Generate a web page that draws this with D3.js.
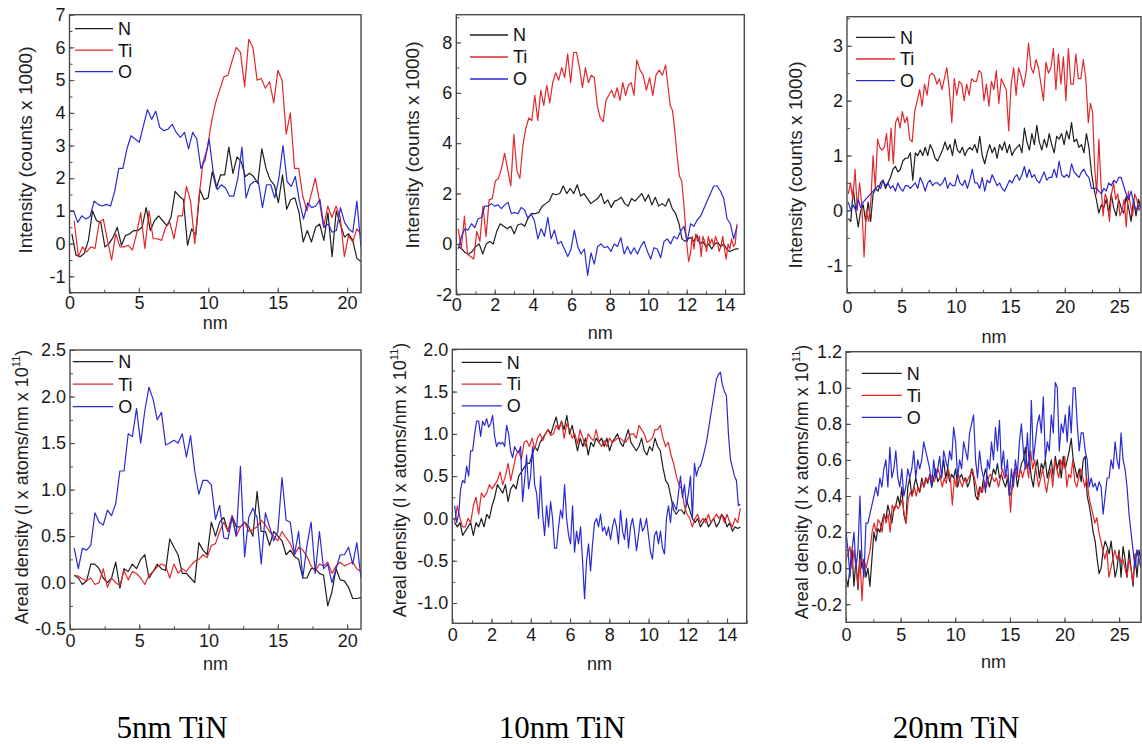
<!DOCTYPE html>
<html>
<head>
<meta charset="utf-8">
<script src="https://cdn.jsdelivr.net/npm/d3@7"></script>
<style>
body{margin:0;background:#fff;}
svg{display:block;}
text{font-family:"Liberation Sans",Arial,sans-serif;}
text.caption{font-family:"Liberation Serif","Times New Roman",serif;}
</style>
</head>
<body>
<svg id="chart" width="1142" height="744"></svg>
<script>
// ---------------- data ----------------
var seriesNames=["N","Ti","O"];
var seriesColors=["#1e1e1e","#e2272b","#2a2ad2"];
var sampleTitles=["5nm TiN","10nm TiN","20nm TiN"];

// panel 1 : 5nm, intensity
var p1N=[0.3,-0.35,-0.4,-0.3,0.1,1.0,0.7,0.65,-0.1,0.0,0.2,0.5,-0.05,0.25,0.3,0.4,0.4,0.5,1.1,0.4,0.7,0.85,0.7,0.55,0.8,1.6,1.45,1.35,-0.05,0.45,0.25,1.65,1.35,1.4,2.2,1.7,2.1,2.1,2.95,2.15,2.65,2.5,2.05,2.15,2.05,1.85,2.9,2.3,1.95,1.8,1.25,2.1,1.05,1.35,1.4,0.95,0.05,0.4,0.05,0.5,0.6,0.1,0.95,-0.4,1.0,0.6,0.2,0.3,0.1,-0.45,-0.55];
var p1Ti=[0.7,-0.4,-0.1,-0.25,-0.1,-0.15,0.65,0.75,0.1,-0.5,0.3,-0.1,-0.1,-0.05,-0.2,0.3,0.95,-0.15,1.0,0.15,0.15,0.1,0.5,0.65,0.15,0.85,0.85,1.75,1.3,0.0,1.4,2.5,2.9,3.7,4.3,4.7,5.1,5.15,5.6,6.0,5.85,4.8,6.25,6.0,5.0,5.05,4.75,4.95,4.3,5.3,5.0,3.35,4.0,2.3,2.3,1.45,1.0,1.5,2.0,1.3,0.5,1.15,0.8,1.15,0.8,-0.4,0.25,0.05,0.45,0.3];
var p1O=[1.0,1.0,0.65,0.85,0.75,0.83,1.3,1.2,1.15,1.2,1.15,1.6,2.3,2.3,2.9,3.3,3.2,3.1,3.6,4.1,3.8,4.05,3.55,3.45,3.5,3.65,3.4,3.25,3.4,2.9,3.4,3.2,2.3,2.55,3.2,2.2,1.65,1.8,1.7,1.45,1.45,2.0,2.95,1.4,1.8,1.9,1.9,1.1,1.8,1.8,1.4,2.0,3.0,1.9,1.75,2.05,1.3,0.75,1.25,1.1,1.15,1.35,0.5,0.6,0.35,0.4,1.1,0.65,0.45,0.35,1.3,-0.1];
// sample positions (index -> nm), -1 = last sample
var p1Pos=[[[0,0.17],[-1,21]],[[0,0.34],[-1,21]],[[0,0],[-1,21]]];

// panel 2 : 10nm, intensity
var p2N=[-0.1,-0.2,-0.35,-0.4,-0.3,-0.1,0.0,-0.4,0.0,0.1,0.0,0.5,0.8,0.7,0.6,0.7,0.4,0.75,0.8,0.7,1.05,1.2,1.2,1.25,1.5,1.6,1.7,2.0,1.95,2.0,2.3,2.0,2.2,2.0,2.35,1.9,2.0,1.8,1.6,1.7,1.8,2.0,1.6,1.75,1.45,1.7,1.75,1.85,1.6,1.5,1.8,1.7,1.85,2.0,1.7,1.95,1.55,1.85,1.5,1.6,1.5,1.8,1.4,1.2,0.8,0.2,0.1,0.2,0.25,0.1,0.35,0.0,0.1,-0.1,0.0,-0.2,0.0,0.05,-0.1,0.0,-0.2,-0.3,-0.25,-0.2,-0.2];
var p2Ti=[0.6,-0.2,1.1,-0.4,-0.5,-0.6,0.5,0.1,1.5,0.3,1.75,1.8,2.5,2.6,3.0,3.6,2.95,2.3,4.35,2.9,2.6,3.9,4.6,5.0,4.9,5.9,4.9,6.1,5.5,6.3,5.6,6.4,6.8,6.5,7.0,6.6,7.55,6.4,7.6,7.6,7.0,6.2,7.0,6.4,6.7,6.6,5.5,5.0,4.85,5.7,5.9,6.1,5.8,6.2,5.7,6.4,5.9,6.3,6.4,5.9,7.3,6.9,6.7,6.1,6.6,5.9,6.7,6.9,6.7,7.1,6.3,5.5,5.3,4.5,3.5,2.7,2.5,1.5,0.2,-0.7,-0.4,0.3,-0.2,0.4,0.1,0.3,-0.5,0.3,0.1,-0.3,0.3,0.0,0.2,-0.1,0.3,0.1,-0.3,-0.1,0.3,-0.2,-0.6,0.0,-0.2,0.2,-0.1,0.0,0.8];
var p2O=[-0.2,0.3,0.6,0.55,0.8,0.65,1.0,1.05,1.5,1.5,1.6,1.5,1.55,1.4,1.55,1.65,1.2,1.25,1.2,1.45,1.35,1.0,1.2,0.9,0.2,0.6,0.3,1.05,0.2,0.55,0.0,0.1,-0.2,-0.5,-0.2,0.55,-0.1,-0.4,-0.2,-1.25,-0.35,-0.8,-0.1,0.0,-0.15,-0.1,-0.3,0.0,-0.1,0.25,-0.4,-0.1,-0.4,-0.15,-0.4,-0.1,0.1,-0.3,-0.6,-0.15,-0.2,-0.55,0.1,0.2,0.0,0.3,0.2,0.5,0.7,0.1,0.8,0.7,0.95,1.1,1.4,1.7,2.0,2.3,2.3,2.1,1.8,1.0,0.8,0.2,0.7];
var p2Pos=[[[0,0.1],[34,6.3],[64,11.6],[-1,14.7]],
           [[0,0.1],[18,3.0],[36,5.8],[48,7.65],[60,9.4],[69,10.9],[79,12.1],[-1,14.62]],
           [[0,0.1],[-1,14.62]]];

// panel 3 : 20nm, intensity
var p3N=[-0.15,-0.2,0.4,0.0,-0.3,0.0,0.1,-0.2,0.15,-0.2,0.3,0.4,0.35,0.5,0.55,0.4,0.5,0.6,0.75,0.8,0.7,0.75,0.9,0.95,0.95,1.05,0.55,1.05,1.0,1.1,1.0,1.15,1.0,1.2,1.1,0.95,0.9,1.0,1.1,1.25,1.1,1.2,1.0,1.3,1.1,1.05,1.15,1.0,1.1,1.15,1.1,1.2,1.05,1.35,1.0,0.85,1.05,1.2,1.05,1.15,0.95,1.2,1.1,1.25,1.05,1.2,1.0,1.1,1.15,1.2,1.05,1.5,1.25,1.1,1.4,1.2,1.55,1.25,1.1,1.3,1.15,1.4,1.2,1.05,1.35,1.3,1.4,1.2,1.45,1.3,1.6,1.25,1.3,1.15,1.2,1.05,1.4,1.15,0.7,0.4,0.2,-0.05,0.1,0.05,0.2,-0.05,0.3,0.05,-0.1,0.2,0.05,-0.05,0.25,0.05,-0.2,0.2,-0.1,0.2,0.05];
var p3Ti=[0.3,0.5,0.2,0.75,0.0,0.5,0.1,-0.85,0.0,-0.2,0.15,1.0,0.4,1.3,1.15,1.1,1.15,1.4,0.9,1.5,0.85,1.6,1.7,1.5,1.8,1.6,1.7,1.3,1.25,1.8,2.0,2.2,1.9,2.3,2.1,2.45,2.5,2.45,2.3,2.4,2.2,2.4,2.6,2.2,1.6,2.4,2.1,2.35,2.3,2.0,2.3,2.1,2.4,2.35,2.35,2.55,2.5,2.0,2.3,1.9,2.35,2.2,2.55,1.95,2.4,2.3,2.2,1.45,2.3,2.6,2.1,2.6,2.45,2.25,2.5,3.05,2.6,2.5,2.75,2.6,2.3,2.0,2.7,2.5,2.6,2.95,2.2,2.85,2.3,2.8,2.0,2.95,2.3,2.3,2.85,2.4,2.4,2.75,2.4,1.6,1.95,1.8,0.8,0.3,1.3,0.5,-0.1,0.3,0.2,-0.2,0.3,0.5,0.2,0.3,-0.1,0.0,0.2,-0.3,0.35,0.1,-0.1,0.3,0.2,0.0,0.1];
var p3O=[0.15,0.0,0.1,0.0,0.2,0.05,0.15,0.2,0.25,0.3,0.35,0.4,0.45,0.4,0.55,0.45,0.5,0.4,0.45,0.35,0.5,0.4,0.35,0.45,0.45,0.4,0.45,0.5,0.4,0.6,0.5,0.35,0.5,0.55,0.45,0.5,0.5,0.45,0.5,0.6,0.4,0.5,0.45,0.45,0.65,0.5,0.45,0.55,0.4,0.55,0.75,0.5,0.5,0.4,0.6,0.35,0.55,0.5,0.65,0.55,0.45,0.5,0.4,0.35,0.45,0.55,0.5,0.6,0.65,0.55,0.65,0.8,0.6,0.75,0.6,0.65,0.55,0.5,0.6,0.7,0.55,0.6,0.6,0.75,0.6,0.9,0.65,0.6,0.65,0.6,0.85,0.7,0.65,0.6,0.7,0.75,0.65,0.6,0.4,0.4,0.4,0.35,0.3,0.4,0.35,0.5,0.45,0.55,0.5,0.6,0.6,0.45,0.3,0.2,0.35,0.15,0.0,0.1,0.05];
var p3Pos=[[[0,0.12],[-1,27]],
           [[0,0.12],[24,5.08],[49,10.76],[74,16.44],[99,22.16],[-1,27]],
           [[0,0.12],[-1,27]]];

// panel 4 : 5nm, areal density
var p4N=[0.08,0.05,-0.02,0.02,0.2,0.2,0.15,0.05,0.0,0.05,0.22,-0.06,0.15,0.12,0.2,0.15,0.25,0.3,0.05,0.12,0.2,0.15,0.13,0.47,0.38,0.3,0.1,0.1,0.05,0.0,0.43,0.35,0.3,0.65,0.5,0.65,0.7,0.55,0.72,0.6,0.6,0.65,0.6,0.5,0.98,0.55,0.55,0.4,0.55,0.5,0.45,0.3,0.35,0.28,0.25,0.05,0.05,0.15,0.15,0.1,0.08,-0.25,-0.1,0.15,0.03,0.02,-0.05,-0.17,-0.17,-0.16];
var p4Ti=[0.08,0.07,0.04,0.02,0.05,-0.02,0.0,0.15,-0.05,0.05,0.0,-0.03,0.13,0.03,0.12,0.1,0.05,-0.02,0.08,0.12,0.17,0.2,0.18,0.05,0.2,0.1,0.15,0.12,0.18,0.23,0.25,0.3,0.27,0.4,0.42,0.55,0.65,0.55,0.72,0.5,0.6,0.65,0.55,0.57,0.6,0.67,0.62,0.55,0.5,0.45,0.55,0.48,0.42,0.3,0.38,0.35,0.28,0.18,0.12,0.2,0.18,0.22,0.1,0.18,0.22,0.18,0.2,0.22,0.15,0.12];
var p4O=[0.37,0.15,0.37,0.35,0.4,0.75,0.65,0.62,0.78,0.72,0.85,1.2,1.2,1.6,1.57,1.87,1.5,1.85,2.1,1.97,1.75,1.83,1.48,1.5,1.53,1.5,1.6,1.35,1.58,1.2,0.95,1.1,1.1,1.05,0.68,0.83,0.48,0.47,0.7,0.5,1.25,0.28,0.7,0.8,0.7,0.2,0.75,0.6,0.45,0.55,1.13,0.67,0.65,0.3,0.55,0.05,0.4,0.65,0.1,0.55,0.15,0.2,0.0,0.15,0.3,0.3,0.38,0.2,0.43,0.05];
var p4Pos=[[[0,0.3],[-1,21]],[[0,0.3],[-1,21]],[[0,0.3],[-1,21]]];

// panel 5 : 10nm, areal density
var p5N=[-0.05,-0.1,-0.05,-0.2,-0.15,-0.1,-0.05,-0.2,-0.05,-0.1,0.0,-0.1,0.05,0.0,0.15,0.25,0.4,0.35,0.3,0.4,0.2,0.35,0.4,0.35,0.5,0.55,0.6,0.65,0.65,0.75,0.85,0.8,0.9,0.95,1.0,1.05,1.0,1.1,1.2,1.05,1.15,1.05,1.22,1.0,1.1,0.95,0.8,0.95,0.85,0.95,0.75,0.9,0.85,0.95,0.9,0.95,0.85,0.95,0.8,0.9,0.95,1.0,0.9,0.85,0.95,1.05,0.9,0.85,0.8,0.85,0.95,0.8,0.75,0.85,0.8,0.95,0.85,0.8,0.6,0.45,0.4,0.25,0.1,0.05,0.1,0.1,0.05,0.2,0.1,0.0,-0.05,0.0,-0.1,-0.05,0.0,-0.1,-0.05,0.0,-0.1,-0.05,0.05,0.0,-0.1,-0.05,-0.15,-0.1,-0.12,-0.1];
var p5Ti=[-0.05,0.15,0.0,-0.1,-0.1,0.0,-0.05,0.15,0.25,0.05,0.3,0.25,0.3,0.4,0.35,0.4,0.45,0.55,0.4,0.5,0.65,0.45,0.6,0.75,0.8,0.7,0.9,0.92,0.85,0.95,0.82,0.95,1.0,0.92,1.0,1.05,0.98,1.0,1.1,1.05,1.15,0.95,1.12,1.05,0.95,1.0,0.88,1.05,0.95,0.85,1.0,0.95,0.92,1.05,0.9,0.85,0.92,0.85,0.95,0.9,0.92,0.95,0.95,0.92,0.9,0.95,1.0,1.0,0.95,1.1,1.05,1.0,0.9,0.92,0.95,1.05,1.05,1.1,0.95,0.85,0.9,0.75,0.65,0.5,0.4,0.35,0.15,0.05,0.0,-0.1,0.0,0.05,-0.05,0.0,-0.05,0.05,-0.05,0.0,0.05,0.0,0.05,-0.05,0.05,-0.05,-0.1,0.0,-0.05,0.12];
var p5O=[0.15,-0.05,0.05,0.35,0.45,0.42,0.62,0.5,0.8,0.8,1.0,1.15,1.15,0.97,1.15,1.1,1.18,1.08,1.12,1.22,0.97,0.85,0.9,0.88,0.9,0.85,1.1,1.0,0.8,0.72,0.85,0.8,0.78,0.85,0.2,0.45,0.75,0.35,0.5,0.85,0.4,0.3,0.0,0.5,0.05,-0.2,0.15,-0.1,0.2,0.0,-0.35,-0.35,-0.1,0.1,0.0,0.4,0.0,-0.2,-0.3,0.15,-0.4,-0.15,-0.3,-0.1,-0.5,-0.95,-0.5,-0.3,-0.62,-0.3,-0.05,0.0,-0.1,0.05,-0.15,-0.1,-0.2,-0.1,-0.25,-0.1,0.0,-0.1,-0.3,0.1,-0.15,-0.25,0.0,-0.35,-0.1,0.0,-0.15,-0.38,-0.2,0.0,-0.15,-0.1,0.0,-0.2,-0.4,-0.48,-0.2,-0.15,-0.3,-0.15,-0.35,-0.42,0.0,0.15,-0.05,0.2,0.15,0.1,0.3,0.5,0.25,0.4,0.15,0.3,0.5,0.0,0.65,0.5,0.6,0.62,0.7,0.8,0.9,1.05,1.2,1.35,1.5,1.65,1.7,1.73,1.58,1.5,1.45,1.0,0.7,0.6,0.5,0.45,0.15,0.17];
var p5Pos=[[[0,0.12],[-1,14.68]],[[0,0.12],[-1,14.68]],[[0,0.12],[-1,14.68]]];

// panel 6 : 20nm, areal density
var p6N=[-0.05,-0.1,0.0,0.1,-0.1,0.05,-0.12,0.1,0.0,0.05,-0.05,0.0,-0.1,0.05,0.2,0.15,0.22,0.2,0.25,0.3,0.27,0.35,0.3,0.25,0.33,0.35,0.4,0.35,0.45,0.3,0.25,0.45,0.5,0.4,0.45,0.5,0.45,0.42,0.5,0.45,0.5,0.47,0.52,0.45,0.5,0.55,0.48,0.5,0.52,0.6,0.5,0.55,0.48,0.52,0.5,0.55,0.45,0.5,0.52,0.48,0.5,0.45,0.48,0.55,0.5,0.4,0.38,0.45,0.42,0.5,0.55,0.5,0.45,0.5,0.55,0.52,0.58,0.5,0.52,0.48,0.45,0.5,0.4,0.42,0.5,0.55,0.45,0.52,0.58,0.6,0.67,0.55,0.6,0.5,0.45,0.55,0.6,0.5,0.58,0.55,0.6,0.5,0.55,0.6,0.5,0.62,0.55,0.6,0.5,0.62,0.55,0.6,0.65,0.72,0.6,0.55,0.5,0.55,0.48,0.6,0.62,0.4,0.35,0.28,0.2,0.15,0.05,-0.03,0.0,0.1,0.15,0.12,0.08,0.15,0.05,-0.05,0.0,0.1,-0.05,0.12,0.05,-0.05,0.1,0.0,-0.1,0.08,-0.05,0.1,0.05];
var p6Ti=[0.05,0.08,0.12,0.0,0.1,0.0,-0.1,0.05,-0.18,0.05,0.0,0.05,0.1,0.2,0.25,0.2,0.27,0.25,0.2,0.3,0.25,0.3,0.2,0.35,0.32,0.35,0.33,0.35,0.38,0.3,0.25,0.38,0.42,0.4,0.45,0.4,0.45,0.43,0.48,0.45,0.5,0.48,0.52,0.5,0.48,0.52,0.55,0.5,0.45,0.5,0.47,0.55,0.5,0.35,0.5,0.45,0.52,0.48,0.45,0.5,0.47,0.5,0.52,0.55,0.5,0.45,0.38,0.45,0.42,0.48,0.45,0.5,0.52,0.5,0.48,0.5,0.45,0.5,0.55,0.5,0.52,0.48,0.31,0.5,0.55,0.52,0.5,0.55,0.5,0.55,0.58,0.5,0.65,0.55,0.6,0.52,0.45,0.5,0.55,0.48,0.42,0.5,0.55,0.45,0.6,0.55,0.5,0.6,0.55,0.62,0.45,0.52,0.5,0.6,0.48,0.45,0.5,0.55,0.5,0.45,0.5,0.4,0.35,0.3,0.25,0.28,0.2,0.15,0.1,0.05,0.1,-0.05,0.0,0.05,0.1,0.05,0.08,0.03,0.05,0.0,-0.05,0.05,0.0,-0.08,0.05,0.1,0.05,0.0];
var p6O=[0.2,0.1,-0.05,0.1,0.2,0.0,0.1,0.4,0.05,-0.05,0.25,0.25,0.3,0.35,0.4,0.45,0.4,0.5,0.45,0.55,0.6,0.45,0.67,0.5,0.55,0.65,0.5,0.45,0.55,0.4,0.45,0.55,0.5,0.55,0.65,0.5,0.6,0.55,0.6,0.7,0.65,0.6,0.55,0.45,0.6,0.5,0.55,0.62,0.5,0.65,0.6,0.55,0.65,0.6,0.78,0.7,0.5,0.6,0.55,0.7,0.65,0.6,0.75,0.8,0.85,0.6,0.5,0.65,0.55,0.5,0.42,0.6,0.55,0.7,0.6,0.78,0.65,0.82,0.55,0.65,0.5,0.6,0.4,0.55,0.45,0.6,0.52,0.7,0.8,0.65,0.55,0.75,0.55,0.93,0.6,0.7,0.8,0.85,0.75,0.95,0.6,0.7,0.65,0.85,0.75,1.03,1.0,0.65,0.8,0.75,0.85,0.7,0.9,0.75,1.0,1.0,0.8,0.65,0.75,0.75,0.65,0.6,0.45,0.5,0.45,0.47,0.43,0.48,0.45,0.3,0.4,0.5,0.5,0.6,0.55,0.7,0.6,0.55,0.75,0.6,0.55,0.45,0.3,0.2,0.1,0.0,0.1,0.05,0.0];
var p6Pos=[[[0,0],[-1,27]],[[0,0],[-1,27]],[[0,0],[-1,27]]];

// axis ticks
var p1XTicks=[0,5,10,15,20],  p1YTicks=[-1,0,1,2,3,4,5,6,7];
var p2XTicks=[0,2,4,6,8,10,12,14], p2YTicks=[-2,0,2,4,6,8];
var p3XTicks=[0,5,10,15,20,25], p3YTicks=[-1,0,1,2,3];
var p4XTicks=[0,5,10,15,20],  p4YTicks=[-0.5,0,0.5,1,1.5,2,2.5];
var p5XTicks=[0,2,4,6,8,10,12,14], p5YTicks=[-1,-0.5,0,0.5,1,1.5,2];
var p6XTicks=[0,5,10,15,20,25], p6YTicks=[-0.2,0,0.2,0.4,0.6,0.8,1,1.2];

// ---------------- layout ----------------
var intensityTitle="Intensity (counts x 1000)";
var panels=[
 {data:[p1N,p1Ti,p1O],pos:p1Pos,xDom:[0,21],yDom:[-1.5,7],xt:p1XTicks,yt:p1YTicks,xMin:2.5,yMin:0.5,dec:0,
  box:[69.5,14.7,361,292.7],pad:4,nmY:329,tx:25,ty:150,top:true,leg:[75,113,28.7,21.5]},
 {data:[p2N,p2Ti,p2O],pos:p2Pos,xDom:[0,15],yDom:[-2,9.1],xt:p2XTicks,yt:p2YTicks,xMin:1,yMin:1,dec:0,
  box:[456.3,14.7,744.3,294.3],pad:4,nmY:339,tx:412,ty:145,top:true,leg:[470,508,35,22]},
 {data:[p3N,p3Ti,p3O],pos:p3Pos,xDom:[0,27],yDom:[-1.5,3.53],xt:p3XTicks,yt:p3YTicks,xMin:2.5,yMin:0.5,dec:0,
  box:[847,16.7,1141,292.7],pad:8,nmY:343,tx:795,ty:165,top:true,leg:[856,895,37.3,21.7]},
 {data:[p4N,p4Ti,p4O],pos:p4Pos,xDom:[0,21],yDom:[-0.5,2.5],xt:p4XTicks,yt:p4YTicks,xMin:2.5,yMin:0.25,dec:1,
  box:[70,350,361,629.2],pad:5,nmY:670,tx:22,ty:487,top:false,leg:[72.7,113.3,361.7,22.5]},
 {data:[p5N,p5Ti,p5O],pos:p5Pos,xDom:[0,15],yDom:[-1.24,2.0],xt:p5XTicks,yt:p5YTicks,xMin:1,yMin:0.25,dec:1,
  box:[452.3,349.3,746.7,623.3],pad:5,nmY:670,tx:400,ty:480,top:false,leg:[461.7,501.7,362.3,21.8]},
 {data:[p6N,p6Ti,p6O],pos:p6Pos,xDom:[0,27],yDom:[-0.3,1.2],xt:p6XTicks,yt:p6YTicks,xMin:2.5,yMin:0.1,dec:1,
  box:[846,351.7,1141,622.3],pad:6,nmY:668,tx:802,ty:482,top:false,leg:[861.7,901.7,373.3,22]}
];
var titlePos=[[172,738],[562,738],[956,738]];

var svg=d3.select("#chart");
var loc=d3.formatLocale({decimal:".",thousands:",",grouping:[3],currency:["",""],minus:"-"});
var frameCol="#4a4a4a";

panels.forEach(function(p,k){
	var b=p.box;
	var x=d3.scaleLinear().domain(p.xDom).range([b[0],b[2]]);
	var y=d3.scaleLinear().domain(p.yDom).range([b[3],b[1]]);
	var fmt=loc.format(p.dec?".1f":"d");
	var g=svg.append("g");

	// clip
	var cid="clip"+k;
	svg.append("clipPath").attr("id",cid).append("rect")
		.attr("x",b[0]).attr("y",b[1]).attr("width",b[2]-b[0]).attr("height",b[3]-b[1]);

	// lines
	var lg=g.append("g").attr("clip-path","url(#"+cid+")");
	p.data.forEach(function(vals,s){
		var knots=p.pos[s].map(function(d){return [d[0]<0?vals.length-1:d[0],d[1]];});
		var idx=d3.scaleLinear().domain(knots.map(function(d){return d[0];})).range(knots.map(function(d){return d[1];}));
		var line=d3.line().x(function(d,i){return x(idx(i));}).y(function(d){return y(d);});
		lg.append("path").datum(vals).attr("d",line)
			.attr("fill","none").attr("stroke",seriesColors[s]).attr("stroke-width",1.2).attr("stroke-linejoin","round");
	});

	// minor ticks
	var xm=d3.range(p.xDom[0],p.xDom[1]+1e-9,p.xMin);
	var ym=d3.range(Math.ceil(p.yDom[0]/p.yMin)*p.yMin,p.yDom[1]+1e-9,p.yMin);
	g.append("g").attr("transform","translate(0,"+b[3]+")")
		.call(d3.axisBottom(x).tickValues(xm).tickSizeInner(-3).tickSizeOuter(0).tickFormat(""))
		.call(function(a){a.select(".domain").remove();a.selectAll("line").attr("stroke",frameCol);});
	g.append("g").attr("transform","translate("+b[0]+",0)")
		.call(d3.axisLeft(y).tickValues(ym).tickSizeInner(-3).tickSizeOuter(0).tickFormat(""))
		.call(function(a){a.select(".domain").remove();a.selectAll("line").attr("stroke",frameCol);});

	// major ticks + labels
	g.append("g").attr("transform","translate(0,"+b[3]+")")
		.call(d3.axisBottom(x).tickValues(p.xt).tickSizeInner(-5).tickSizeOuter(0).tickPadding(p.pad).tickFormat(loc.format("d")))
		.call(function(a){
			a.select(".domain").remove();
			a.selectAll("line").attr("stroke",frameCol);
			a.selectAll("text").attr("font-size",18).attr("fill","#1a1a1a").attr("font-family",null);
		});
	g.append("g").attr("transform","translate("+b[0]+",0)")
		.call(d3.axisLeft(y).tickValues(p.yt).tickSizeInner(-5).tickSizeOuter(0).tickPadding(4).tickFormat(fmt))
		.call(function(a){
			a.select(".domain").remove();
			a.selectAll("line").attr("stroke",frameCol);
			a.selectAll("text").attr("font-size",18).attr("fill","#1a1a1a").attr("font-family",null);
		});

	// frame
	g.append("rect").attr("x",b[0]).attr("y",b[1]).attr("width",b[2]-b[0]).attr("height",b[3]-b[1])
		.attr("fill","none").attr("stroke",frameCol).attr("stroke-width",1.4);

	// x title
	g.append("text").attr("x",(b[0]+b[2])/2).attr("y",p.nmY).attr("text-anchor","middle")
		.attr("font-size",18).attr("fill","#222").text("nm");

	// y title
	var yt=g.append("text").attr("transform","translate("+p.tx+","+p.ty+") rotate(-90)")
		.attr("text-anchor","middle").attr("dy","0.35em").attr("font-size",p.top?19:18).attr("fill","#222");
	if (p.top){
		yt.text(intensityTitle);
	} else {
		yt.append("tspan").text("Areal density (I x atoms/nm x 10");
		yt.append("tspan").attr("dy",-8).attr("font-size",11).text("11");
		yt.append("tspan").attr("dy",8).text(")");
	}

	// legend
	var L=p.leg;
	seriesNames.forEach(function(nm,s){
		var yy=L[2]+s*L[3];
		g.append("line").attr("x1",L[0]).attr("x2",L[1]).attr("y1",yy).attr("y2",yy)
			.attr("stroke",seriesColors[s]).attr("stroke-width",1.3);
		g.append("text").attr("x",L[1]+5).attr("y",yy).attr("dy","0.35em")
			.attr("font-size",18).attr("fill","#111").text(nm);
	});
});

// sample captions (serif, under each column)
sampleTitles.forEach(function(t,i){
	svg.append("text").attr("class","caption").attr("x",titlePos[i][0]).attr("y",titlePos[i][1])
		.attr("text-anchor","middle").attr("font-size",31).attr("fill","#000").text(t);
});
</script>
</body>
</html>
